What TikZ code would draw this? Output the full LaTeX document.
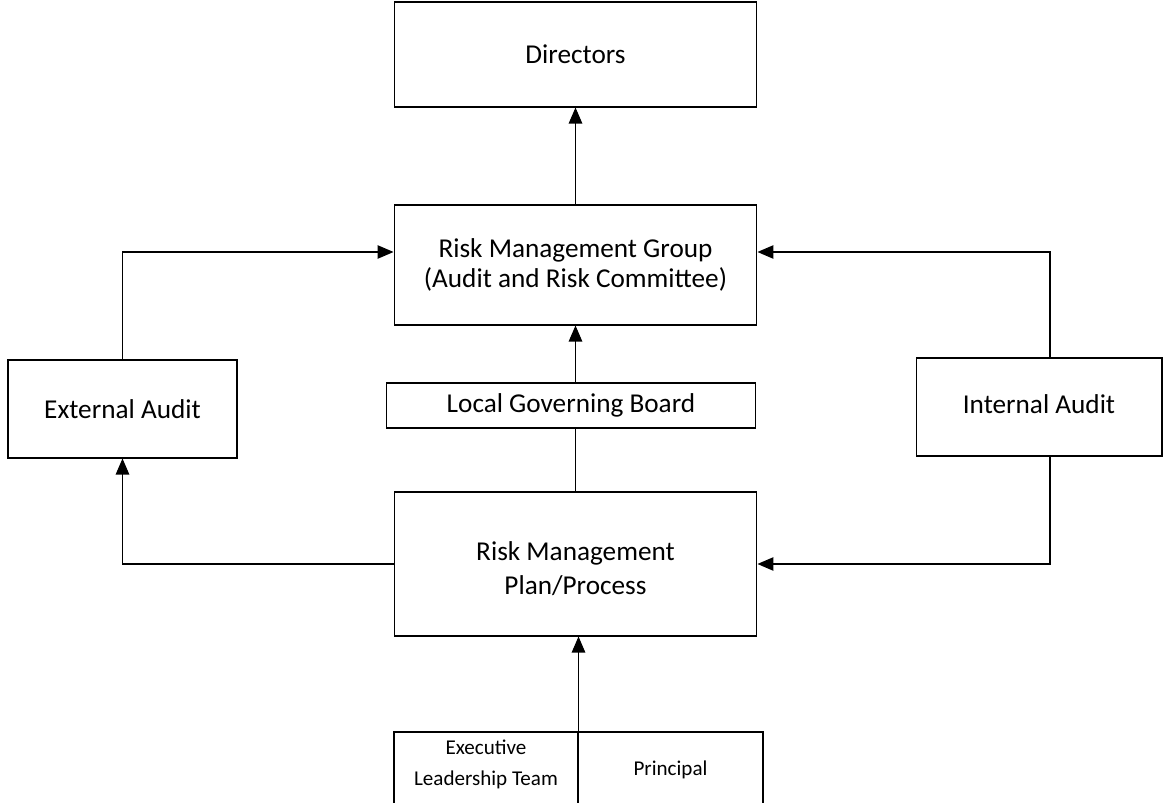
\documentclass[tikz,border=0pt]{standalone}
\usepackage{fontspec}
\setmainfont{Carlito}
\usetikzlibrary{arrows.meta}

\tikzset{
  box/.style={draw, line width=0.6pt, align=center, inner sep=0pt,
    font=\fontsize{15.5}{17}\selectfont},
  smallbox/.style={box, font=\fontsize{12}{17.6}\selectfont},
  link/.style={line width=0.6pt, -{Triangle[length=0.32cm,width=0.27cm]}},
  plain/.style={line width=0.6pt}
}

\begin{document}
\begin{tikzpicture}[x=0.02cm,y=-0.02cm]
        \useasboundingbox (0,0) rectangle (1164,803);

        \node[box, minimum width=7.26cm, minimum height=2.1cm] (dir) at (575.5,54.5) {Directors};
        \node[box, minimum width=7.26cm, minimum height=2.4cm] (rmg) at (575.5,265) {Risk Management Group\\(Audit and Risk Committee)};
        \node[box, minimum width=7.4cm, minimum height=0.9cm] (lgb) at (571,405.5) {Local Governing Board};
        \node[box, minimum width=4.58cm, minimum height=1.96cm] (ea) at (122.5,409) {External Audit};
        \node[box, minimum width=4.92cm, minimum height=1.96cm] (ia) at (1039,407) {\raisebox{0.06cm}[\height][\depth]{Internal Audit}};
        \node[box, minimum width=7.26cm, minimum height=2.88cm] (rmpp) at (575.5,564) {\raisebox{-0.1cm}[\height][\depth]{\parbox{6cm}{\centering\baselineskip=19.3pt Risk Management\\Plan/Process}}};
        \node[smallbox, minimum width=3.68cm, minimum height=1.52cm] (elt) at (486,770) {\raisebox{0.12cm}[\height][\depth]{\parbox{3.6cm}{\centering Executive\\Leadership Team}}};
        \node[smallbox, minimum width=3.7cm, minimum height=1.52cm] (prin) at (670.5,770) {Principal};

        % upward chain
        \draw[link] (rmg.north) -- (dir.south);
        \draw[link] (lgb.north -| rmg.south) -- (rmg.south);
        \draw[plain] (rmpp.north) -- (lgb.south -| rmpp.north);
        \draw[link] (elt.north east) -- (elt.north east |- rmpp.south);

        % audits
        \draw[link] (ea.north) |- ([yshift=0.26cm]rmg.west);
        \draw[link] ([xshift=0.22cm]ia.north) |- ([yshift=0.26cm]rmg.east);
        \draw[link] (rmpp.west) -| (ea.south);
        \draw[link] ([xshift=0.22cm]ia.south) |- (rmpp.east);

    \end{tikzpicture}
\end{document}
